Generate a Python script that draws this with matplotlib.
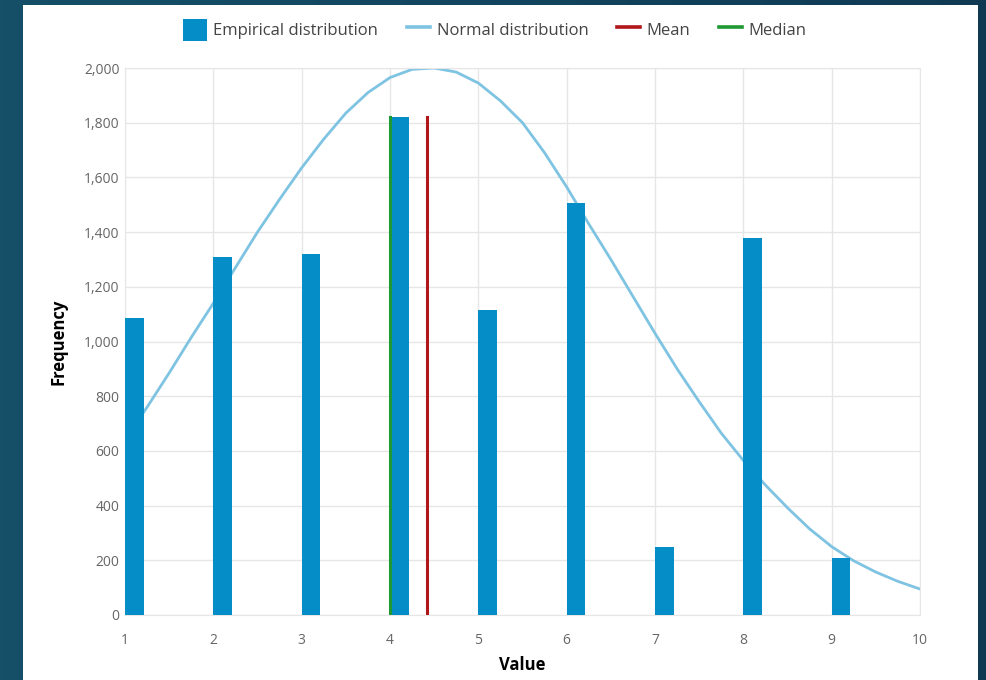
# Empirical vs normal distribution chart
import matplotlib.pyplot as plt
import numpy as np
from matplotlib.patches import Rectangle
from matplotlib.lines import Line2D
from matplotlib.ticker import FuncFormatter
from matplotlib.colors import LinearSegmentedColormap

plt.rcParams['font.family'] = ['Open Sans', 'DejaVu Sans']

# empirical counts per value
values = [1, 2, 3, 4, 5, 6, 7, 8, 9]
counts = [1085, 1310, 1320, 1820, 1115, 1505, 250, 1380, 210]

# normal curve
curve_x = [1.0, 1.25, 1.5, 1.75, 2.0, 2.25, 2.5, 2.75, 3.0, 3.25, 3.5, 3.75,
           4.0, 4.25, 4.5, 4.75, 5.0, 5.25, 5.5, 5.75, 6.0, 6.25, 6.5, 6.75,
           7.0, 7.25, 7.5, 7.75, 8.0, 8.25, 8.5, 8.75, 9.0, 9.25, 9.5, 9.75, 10.0]
curve_y = [640, 760, 885, 1015, 1140, 1270, 1400, 1520, 1635, 1740, 1835, 1910,
           1965, 1995, 2000, 1985, 1945, 1880, 1800, 1690, 1565, 1430, 1300, 1165,
           1030, 900, 780, 665, 565, 475, 392, 315, 250, 198, 157, 123, 95]

mean_value = 4.42
median_value = 4.0
marker_height = 1820

xticks = [1, 2, 3, 4, 5, 6, 7, 8, 9, 10]
yticks = [0, 200, 400, 600, 800, 1000, 1200, 1400, 1600, 1800, 2000]

bar_color = '#058dc7'
curve_color = '#7ec4e2'
mean_color = '#b0161a'
median_color = '#1f9a32'
grid_color = '#e6e6e6'
tick_color = '#666666'

W, H = 986, 680
fig = plt.figure(figsize=(W / 100, H / 100), dpi=100)

# dark gradient background + white panel
bg = fig.add_axes([0, 0, 1, 1], zorder=-10)
grad = np.linspace(0, 1, 256).reshape(1, -1)
cmap = LinearSegmentedColormap.from_list('bg', ['#155068', '#0f3a52'])
bg.imshow(grad, aspect='auto', cmap=cmap, extent=[0, 1, 0, 1])
bg.add_patch(Rectangle((23 / W, 0), (978 - 23) / W, (680 - 5) / H,
                       facecolor='white', edgecolor='none'))
bg.set_xlim(0, 1)
bg.set_ylim(0, 1)
bg.axis('off')

ax = fig.add_axes([125 / W, 1 - 615 / H, (920 - 125) / W, (615 - 68) / H])
ax.set_facecolor('white')

ax.plot(curve_x, curve_y, color=curve_color, lw=2.0, zorder=2,
        solid_joinstyle='round')
ax.bar(values, counts, width=0.21, align='edge', color=bar_color, zorder=3)
ax.plot([mean_value, mean_value], [0, marker_height], color=mean_color, lw=2.2, zorder=4)
ax.plot([median_value, median_value], [0, marker_height], color=median_color, lw=2.2, zorder=4)

ax.set_xlim(1, 10)
ax.set_ylim(0, 2000)
ax.set_xticks(xticks)
ax.set_yticks(yticks)
ax.yaxis.set_major_formatter(FuncFormatter(lambda v, p: f"{int(v):,}"))
ax.tick_params(length=0, labelsize=10, colors=tick_color)
ax.tick_params(axis='x', pad=13)
ax.tick_params(axis='y', pad=4)
ax.grid(True, color=grid_color, lw=1, zorder=0)
ax.set_axisbelow(True)
for s in ax.spines.values():
    s.set_color(grid_color)

ax.set_xlabel("Value", fontsize=12, fontweight='bold', labelpad=6)
ax.set_ylabel("Frequency", fontsize=12, fontweight='bold', labelpad=12)

handles = [
    Rectangle((0, 0), 1, 1, facecolor=bar_color, edgecolor='none'),
    Line2D([], [], color=curve_color, lw=2.6),
    Line2D([], [], color=mean_color, lw=2.6),
    Line2D([], [], color=median_color, lw=2.6),
]
labels = ["Empirical distribution", "Normal distribution", "Mean", "Median"]
fig.legend(handles, labels, loc='center', bbox_to_anchor=(495 / W, 1 - 30 / H),
           ncol=4, frameon=False, fontsize=12, handlelength=1.4,
           handleheight=1.6, handletextpad=0.4, columnspacing=1.7,
           labelcolor='#444444')

fig.savefig("out.png", dpi=100)
